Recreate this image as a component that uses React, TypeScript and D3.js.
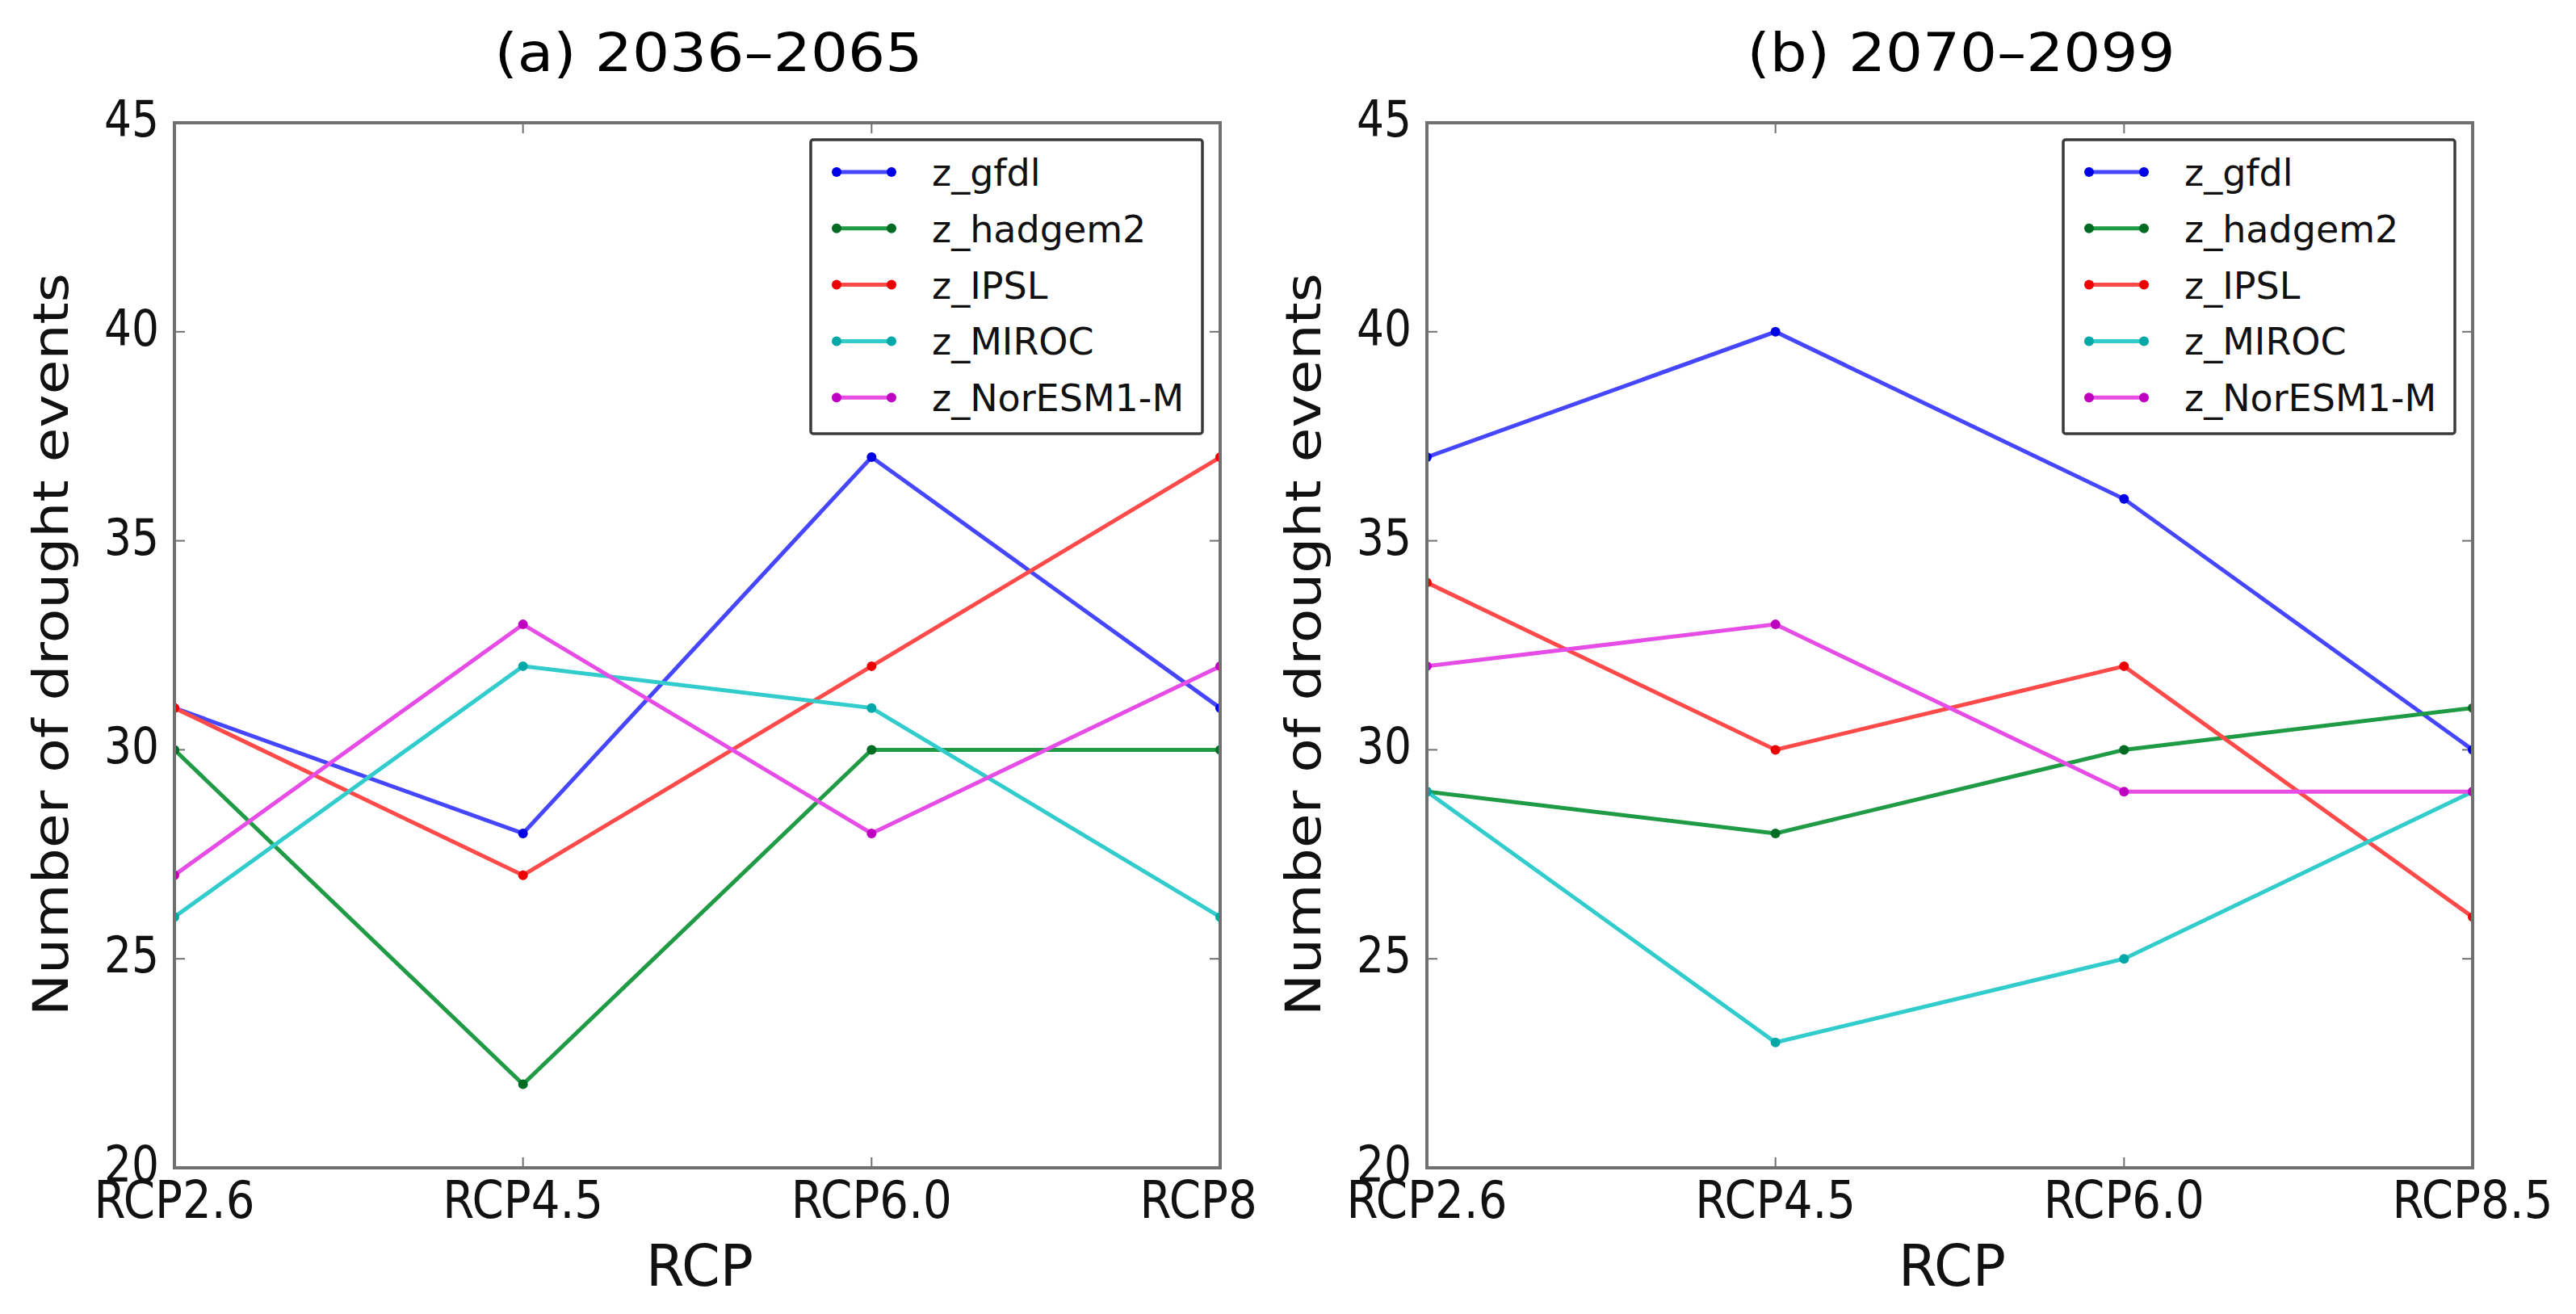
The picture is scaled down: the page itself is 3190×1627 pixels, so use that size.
import React from "react";
import * as d3 from "d3";

const categories = ["RCP2.6", "RCP4.5", "RCP6.0", "RCP8.5"];
const yTicks = [20, 25, 30, 35, 40, 45];
const seriesNames = ["z_gfdl", "z_hadgem2", "z_IPSL", "z_MIROC", "z_NorESM1-M"];
const lineColors = ["#4646ff", "#1f9a45", "#ff4a4a", "#33cccc", "#e64ce6"];
const markerColors = ["#0000e6", "#006b22", "#ee0000", "#00a8a8", "#c000c0"];

// (a) 2036–2065
const a_gfdl = [31, 28, 37, 31];
const a_hadgem2 = [30, 22, 30, 30];
const a_IPSL = [31, 27, 32, 37];
const a_MIROC = [26, 32, 31, 26];
const a_NorESM = [27, 33, 28, 32];

// (b) 2070–2099
const b_gfdl = [37, 40, 36, 30];
const b_hadgem2 = [29, 28, 30, 31];
const b_IPSL = [34, 30, 32, 26];
const b_MIROC = [29, 23, 25, 29];
const b_NorESM = [32, 33, 29, 29];

const panelA = [a_gfdl, a_hadgem2, a_IPSL, a_MIROC, a_NorESM];
const panelB = [b_gfdl, b_hadgem2, b_IPSL, b_MIROC, b_NorESM];

const FONT = "'DejaVu Sans', sans-serif";

type PanelProps = {
  id: string;
  title: string;
  data: number[][];
  left: number;
  right: number;
  clipRight: number;
};

function Panel({ id, title, data, left, right, clipRight }: PanelProps) {
  const top = 152;
  const bottom = 1446;
  const x = d3.scalePoint<string>().domain(categories).range([left, right]).padding(0);
  const y = d3.scaleLinear().domain([20, 45]).range([bottom, top]);
  const line = d3
    .line<number>()
    .x((_, i) => x(categories[i]) as number)
    .y((d) => y(d));
  const cx = (left + right) / 2;
  const legL = right - 507;
  const legT = 173;
  const rowY = (i: number) => 213 + i * 69.8;
  const tickLen = 13;
  const axisColor = "#707070";

  return (
    <g clipPath={`url(#panel-${id})`}>
      <defs>
        <clipPath id={`panel-${id}`}>
          <rect x={left - 300} y={0} width={clipRight - (left - 300)} height={1627} />
        </clipPath>
        <clipPath id={`plot-${id}`}>
          <rect x={left} y={top} width={right - left} height={bottom - top} />
        </clipPath>
      </defs>
      <text
        x={cx + 14}
        y={88}
        fontFamily={FONT}
        fontSize={66}
        textAnchor="middle"
        textLength={530}
        lengthAdjust="spacingAndGlyphs"
        fill="#000"
      >
        {title}
      </text>

      {/* ticks */}
      {categories.map((c) => (
        <g key={c}>
          <line x1={x(c)} x2={x(c)} y1={bottom} y2={bottom - tickLen} stroke={axisColor} strokeWidth={2} />
          <line x1={x(c)} x2={x(c)} y1={top} y2={top + tickLen} stroke={axisColor} strokeWidth={2} />
          <text
            x={x(c)}
            y={1508}
            fontFamily={FONT}
            fontSize={64}
            textAnchor="middle"
            textLength={199}
            lengthAdjust="spacingAndGlyphs"
            fill="#111"
          >
            {c}
          </text>
        </g>
      ))}
      {yTicks.map((t) => (
        <g key={t}>
          <line x1={left} x2={left + tickLen} y1={y(t)} y2={y(t)} stroke={axisColor} strokeWidth={2} />
          <line x1={right} x2={right - tickLen} y1={y(t)} y2={y(t)} stroke={axisColor} strokeWidth={2} />
          <text
            x={left - 19}
            y={y(t) + 17}
            fontFamily={FONT}
            fontSize={62}
            textAnchor="end"
            textLength={68}
            lengthAdjust="spacingAndGlyphs"
            fill="#111"
          >
            {t}
          </text>
        </g>
      ))}

      {/* series */}
      <g clipPath={`url(#plot-${id})`}>
        {data.map((s, si) => (
          <g key={si}>
            <path d={line(s) || ""} fill="none" stroke={lineColors[si]} strokeWidth={5} strokeLinejoin="miter" />
            {s.map((v, i) => (
              <circle key={i} cx={x(categories[i])} cy={y(v)} r={6} fill={markerColors[si]} />
            ))}
          </g>
        ))}
      </g>

      {/* frame */}
      <rect x={left} y={top} width={right - left} height={bottom - top} fill="none" stroke={axisColor} strokeWidth={4} />

      {/* legend */}
      <rect x={legL} y={legT} width={485} height={364} rx={3} fill="#fff" stroke="#3a3a3a" strokeWidth={3.5} />
      {seriesNames.map((n, i) => (
        <g key={n}>
          <line x1={legL + 32} x2={legL + 100} y1={rowY(i)} y2={rowY(i)} stroke={lineColors[i]} strokeWidth={5} />
          <circle cx={legL + 32} cy={rowY(i)} r={6} fill={markerColors[i]} />
          <circle cx={legL + 100} cy={rowY(i)} r={6} fill={markerColors[i]} />
          <text x={legL + 150} y={rowY(i) + 17} fontFamily={FONT} fontSize={46} fill="#111">
            {n}
          </text>
        </g>
      ))}

      {/* axis labels */}
      <text
        x={cx + 3}
        y={1592}
        fontFamily={FONT}
        fontSize={72}
        textAnchor="middle"
        textLength={133}
        lengthAdjust="spacingAndGlyphs"
        fill="#111"
      >
        RCP
      </text>
      <text
        transform={`translate(${left - 132}, 798) rotate(-90)`}
        fontFamily={FONT}
        fontSize={60}
        textAnchor="middle"
        textLength={920}
        lengthAdjust="spacingAndGlyphs"
        fill="#111"
      >
        Number of drought events
      </text>
    </g>
  );
}

export default function App() {
  return (
    <svg
      width={3190}
      height={1627}
      viewBox="0 0 3190 1627"
      style={{ position: "absolute", left: 0, top: 0, background: "#fff" }}
    >
      <rect x={0} y={0} width={3190} height={1627} fill="#fff" />
      <Panel id="a" title="(a) 2036–2065" data={panelA} left={216} right={1511} clipRight={1558} />
      <Panel id="b" title="(b) 2070–2099" data={panelB} left={1767} right={3062} clipRight={3190} />
    </svg>
  );
}
